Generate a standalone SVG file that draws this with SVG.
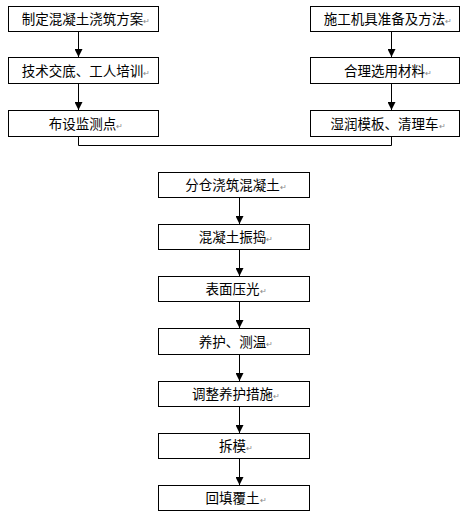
<svg xmlns="http://www.w3.org/2000/svg" width="471" height="523" viewBox="0 0 471 523">
<defs>
<style>
.box{fill:#fff;stroke:#000;stroke-width:1}
.t{font-family:"Noto Sans CJK SC","Liberation Sans",sans-serif;font-size:13.5px;fill:#000;text-anchor:middle}
.pm{font-size:8px;fill:#888}
.ln{fill:none;stroke:#000;stroke-width:1}
</style>
<marker id="ah" markerWidth="8" markerHeight="8" refX="4" refY="8" orient="auto" markerUnits="userSpaceOnUse" viewBox="0 0 8 8">
<path d="M0,0 L8,0 L4,8 Z" fill="#000" transform="rotate(-90 4 4)"/>
</marker>
<marker id="arr" markerWidth="8" markerHeight="8" refX="8" refY="4" orient="auto" markerUnits="userSpaceOnUse" viewBox="0 0 8 8">
<path d="M0,0 L8,4 L0,8 Z" fill="#000"/>
</marker>
</defs>
<rect width="471" height="523" fill="#fff"/>
<g id="connectors">
<line class="ln" x1="78.5" y1="31.5" x2="78.5" y2="57" marker-end="url(#arr)"/>
<line class="ln" x1="78.5" y1="83.5" x2="78.5" y2="110" marker-end="url(#arr)"/>
<line class="ln" x1="391.5" y1="31.5" x2="391.5" y2="57" marker-end="url(#arr)"/>
<line class="ln" x1="391.5" y1="83.5" x2="391.5" y2="110" marker-end="url(#arr)"/>
<polyline class="ln" points="78.5,136.5 78.5,145.5 391.5,145.5 391.5,136.5"/>
<line class="ln" x1="239.5" y1="197.5" x2="239.5" y2="224" marker-end="url(#arr)"/>
<line class="ln" x1="239.5" y1="249.5" x2="239.5" y2="276" marker-end="url(#arr)"/>
<line class="ln" x1="239.5" y1="301.5" x2="239.5" y2="328" marker-end="url(#arr)"/>
<line class="ln" x1="239.5" y1="354.5" x2="239.5" y2="381" marker-end="url(#arr)"/>
<line class="ln" x1="239.5" y1="406.5" x2="239.5" y2="433" marker-end="url(#arr)"/>
<line class="ln" x1="239.5" y1="458.5" x2="239.5" y2="485" marker-end="url(#arr)"/>
</g>
<g id="n1"><rect class="box" x="8.5" y="6.5" width="150" height="25"/><text class="t" x="86" y="24">制定混凝土浇筑方案<tspan class="pm">↵</tspan></text></g>
<g id="n2"><rect class="box" x="8.5" y="57.5" width="150" height="26"/><text class="t" x="86" y="75.5">技术交底、工人培训<tspan class="pm">↵</tspan></text></g>
<g id="n3"><rect class="box" x="8.5" y="110.5" width="150" height="26"/><text class="t" x="86" y="128.5">布设监测点<tspan class="pm">↵</tspan></text></g>
<g id="n4"><rect class="box" x="310.5" y="6.5" width="149" height="25"/><text class="t" x="388" y="24">施工机具准备及方法<tspan class="pm">↵</tspan></text></g>
<g id="n5"><rect class="box" x="310.5" y="57.5" width="149" height="26"/><text class="t" x="388" y="75.5">合理选用材料<tspan class="pm">↵</tspan></text></g>
<g id="n6"><rect class="box" x="310.5" y="110.5" width="149" height="26"/><text class="t" x="388" y="128.5">湿润模板、清理车<tspan class="pm">↵</tspan></text></g>
<g id="n7"><rect class="box" x="158.5" y="172.5" width="151" height="25"/><text class="t" x="236" y="190">分仓浇筑混凝土<tspan class="pm">↵</tspan></text></g>
<g id="n8"><rect class="box" x="158.5" y="224.5" width="151" height="25"/><text class="t" x="236" y="242">混凝土振捣<tspan class="pm">↵</tspan></text></g>
<g id="n9"><rect class="box" x="158.5" y="276.5" width="151" height="25"/><text class="t" x="236" y="294">表面压光<tspan class="pm">↵</tspan></text></g>
<g id="n10"><rect class="box" x="158.5" y="328.5" width="151" height="26"/><text class="t" x="236" y="346.5">养护、测温<tspan class="pm">↵</tspan></text></g>
<g id="n11"><rect class="box" x="158.5" y="381.5" width="151" height="25"/><text class="t" x="236" y="399">调整养护措施<tspan class="pm">↵</tspan></text></g>
<g id="n12"><rect class="box" x="158.5" y="433.5" width="151" height="25"/><text class="t" x="236" y="451">拆模<tspan class="pm">↵</tspan></text></g>
<g id="n13"><rect class="box" x="158.5" y="485.5" width="151" height="25"/><text class="t" x="236" y="503">回填覆土<tspan class="pm">↵</tspan></text></g>
</svg>
